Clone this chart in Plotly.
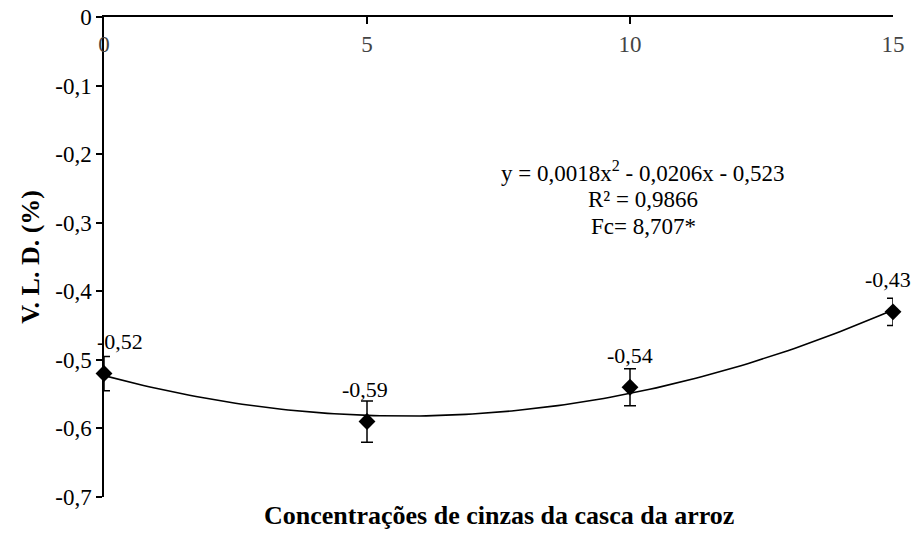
import numpy as np
import plotly.graph_objects as go

# Concentrations of rice husk ash and the measured V.L.D. (%)
conc = [0, 5, 10, 15]
vld = [-0.52, -0.59, -0.54, -0.43]
vld_err = [0.025, 0.03, 0.027, 0.02]
point_labels = ["-0,52", "-0,59", "-0,54", "-0,43"]
label_xshift = [16, -2, 0, -5]

# quadratic trendline as printed on the chart
trend_coef = [0.0018, -0.0206, -0.523]
trend_x = np.linspace(conc[0], conc[-1], 121)
trend_y = np.polyval(trend_coef, trend_x)

eq_lines = ["y = 0,0018x<sup>2</sup> - 0,0206x - 0,523", "R² = 0,9866", "Fc= 8,707*"]
eq_y = [-0.226, -0.2655, -0.305]

y_ticks = [0, -0.1, -0.2, -0.3, -0.4, -0.5, -0.6, -0.7]
y_ticktext = ["0", "-0,1", "-0,2", "-0,3", "-0,4", "-0,5", "-0,6", "-0,7"]
x_ticks = [0, 5, 10, 15]

FONT = "Liberation Serif, Times New Roman, serif"

fig = go.Figure()

# fitted curve
fig.add_trace(go.Scatter(
    x=trend_x, y=trend_y,
    mode="lines",
    line=dict(color="black", width=1.6),
    cliponaxis=False,
    hoverinfo="skip",
    showlegend=False,
))

# observed means with error bars
fig.add_trace(go.Scatter(
    x=conc, y=vld,
    mode="markers",
    marker=dict(symbol="diamond", size=13, color="black"),
    error_y=dict(type="data", array=vld_err, color="black",
                 thickness=1.5, width=6),
    cliponaxis=False,
    showlegend=False,
))

for xv, yv, txt, dx in zip(conc, vld, point_labels, label_xshift):
    fig.add_annotation(
        x=xv, y=yv, text=txt, showarrow=False,
        yshift=32, xshift=dx, yanchor="middle",
        font=dict(family=FONT, size=22, color="black"),
    )

for line, ly in zip(eq_lines, eq_y):
    fig.add_annotation(
        x=10.25, y=ly, xref="x", yref="y",
        text=line, showarrow=False, yanchor="middle",
        font=dict(family=FONT, size=23, color="black"),
    )

fig.add_annotation(
    x=0.5, y=-0.0375, xref="paper", yref="paper",
    text="<b>Concentrações de cinzas da casca da arroz</b>",
    showarrow=False, yanchor="middle",
    font=dict(family=FONT, size=26, color="black"),
)

fig.add_annotation(
    x=-0.094, y=0.5, xref="paper", yref="paper",
    text="<b>V. L. D. (%)</b>", textangle=-90,
    showarrow=False, xanchor="center", yanchor="middle",
    font=dict(family=FONT, size=26, color="black"),
)

# the page body adds an 8px margin, so the figure is shifted by that
fig.update_layout(
    width=905, height=526,
    margin=dict(l=96, r=20, t=9, b=37),
    plot_bgcolor="white",
    paper_bgcolor="white",
    font=dict(family=FONT, size=23, color="black"),
    xaxis=dict(
        range=[0, 15], side="top", automargin=False,
        tickmode="array", tickvals=x_ticks,
        ticks="inside", ticklen=7, tickwidth=1.5, tickcolor="black",
        ticklabelposition="inside", ticklabeloverflow="allow",
        ticklabelstandoff=14,
        showline=True, linecolor="black", linewidth=1.5,
        showgrid=False, zeroline=False,
        tickfont=dict(family=FONT, size=23),
    ),
    yaxis=dict(
        range=[-0.7, 0], automargin=False,
        tickmode="array", tickvals=y_ticks, ticktext=y_ticktext,
        ticks="outside", ticklen=6, tickwidth=1.5, tickcolor="black",
        ticklabeloverflow="allow",
        showline=True, linecolor="black", linewidth=1.5,
        showgrid=False, zeroline=False,
        tickfont=dict(family=FONT, size=23),
    ),
)

fig.write_html("out.html")
